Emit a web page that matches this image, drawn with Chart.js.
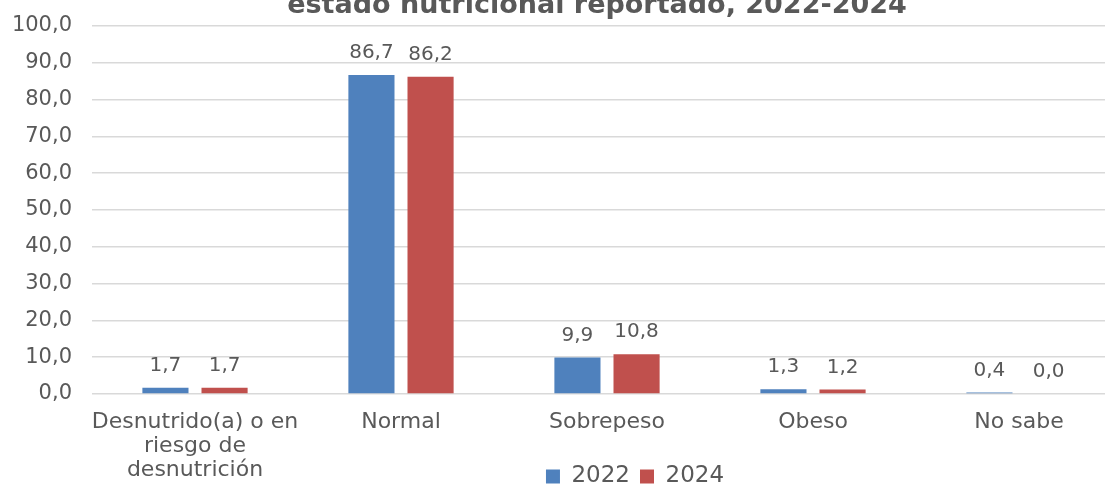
<!DOCTYPE html>
<html>
<head>
<meta charset="utf-8">
<script src="https://cdn.jsdelivr.net/npm/chart.js@4"></script>
<style>
    html, body { margin: 0; padding: 0; background: #fff; overflow: hidden; }
    #ChartWrapper { width: 1105px; height: 487px; overflow: hidden; position: relative; }
    #Chart { position: absolute; left: 0; top: 0; }
</style>
</head>
<body>
<div id="ChartWrapper">
    <canvas id="Chart" width="1125" height="498"></canvas>
</div>
<script>
// данные графика
var categories = [
    ['Desnutrido(a) o en', 'riesgo de', 'desnutrición'],
    'Normal',
    'Sobrepeso',
    'Obeso',
    'No sabe'
];
var values2022 = [1.7, 86.7, 9.9, 1.3, 0.4];
var values2024 = [1.7, 86.2, 10.8, 1.2, 0.0];
var seriesNames = ['2022', '2024'];
var titleText = 'estado nutricional reportado, 2022-2024';

var textColor = '#595959';

function formatComma(v) {
    return Number(v).toFixed(1).replace('.', ',');
}

// подгонка положения легенды и области подписей оси X
var layoutFix = {
    id: 'layoutFix',
    afterLayout(chart) {
        chart.scales.x.bottom = chart.height; //чтобы третья строка подписи не обрезалась
        chart.legend.left += 74;
        chart.legend.right += 74;
    }
};

// заголовок (верхняя часть обрезана, как на оригинале)
var cutTitle = {
    id: 'cutTitle',
    afterDraw(chart) {
        var ctx = chart.ctx;
        ctx.save();
        ctx.font = 'bold 27px "DejaVu Sans"';
        ctx.fillStyle = textColor;
        ctx.textAlign = 'center';
        ctx.textBaseline = 'alphabetic';
        ctx.fillText(titleText, 597, 13);
        ctx.restore();
    }
};

// подписи значений над столбцами
var dataLabels = {
    id: 'dataLabels',
    afterDatasetsDraw(chart) {
        var ctx = chart.ctx;
        ctx.save();
        ctx.font = '20px "DejaVu Sans"';
        ctx.fillStyle = textColor;
        ctx.textAlign = 'center';
        ctx.textBaseline = 'alphabetic';
        chart.data.datasets.forEach(function (ds, i) {
            var meta = chart.getDatasetMeta(i);
            meta.data.forEach(function (bar, j) {
                ctx.fillText(formatComma(ds.data[j]), bar.x, bar.y - 17);
            });
        });
        ctx.restore();
    }
};

var canvas = document.getElementById('Chart');
var myChart = new Chart(canvas, {
    type: 'bar',
    data: {
        labels: categories,
        datasets: [{
            label: seriesNames[0],
            data: values2022,
            backgroundColor: '#4F81BD'
        }, {
            label: seriesNames[1],
            data: values2024,
            backgroundColor: '#C0504D'
        }]
    },
    options: {
        responsive: false,
        animation: false,
        devicePixelRatio: 1,
        categoryPercentage: 0.574,
        barPercentage: 0.78,
        layout: { padding: { left: 0, right: 3, top: 26, bottom: 0 } },
        plugins: {
            title: { display: false },
            legend: {
                position: 'bottom',
                labels: {
                    color: textColor,
                    font: { family: 'DejaVu Sans', size: 23 },
                    boxWidth: 14,
                    boxHeight: 14,
                    padding: 10
                }
            },
            tooltip: { enabled: false }
        },
        scales: {
            x: {
                grid: { display: false },
                border: { display: false },
                afterFit: function (scale) { scale.height = 61; },
                ticks: {
                    color: textColor,
                    font: { family: 'DejaVu Sans', size: 22, lineHeight: 1.1 },
                    maxRotation: 0,
                    autoSkip: false,
                    padding: 8
                }
            },
            y: {
                min: 0,
                max: 100,
                grid: { color: '#d9d9d9', lineWidth: 1.5, drawTicks: false },
                border: { display: false },
                afterFit: function (scale) {
                    scale.width = 92;
                    scale.paddingTop = 0;
                },
                ticks: {
                    stepSize: 10,
                    color: textColor,
                    font: { family: 'DejaVu Sans', size: 21 },
                    padding: 20,
                    callback: function (v) { return formatComma(v); }
                }
            }
        }
    },
    plugins: [layoutFix, dataLabels, cutTitle]
});
</script>
</body>
</html>
